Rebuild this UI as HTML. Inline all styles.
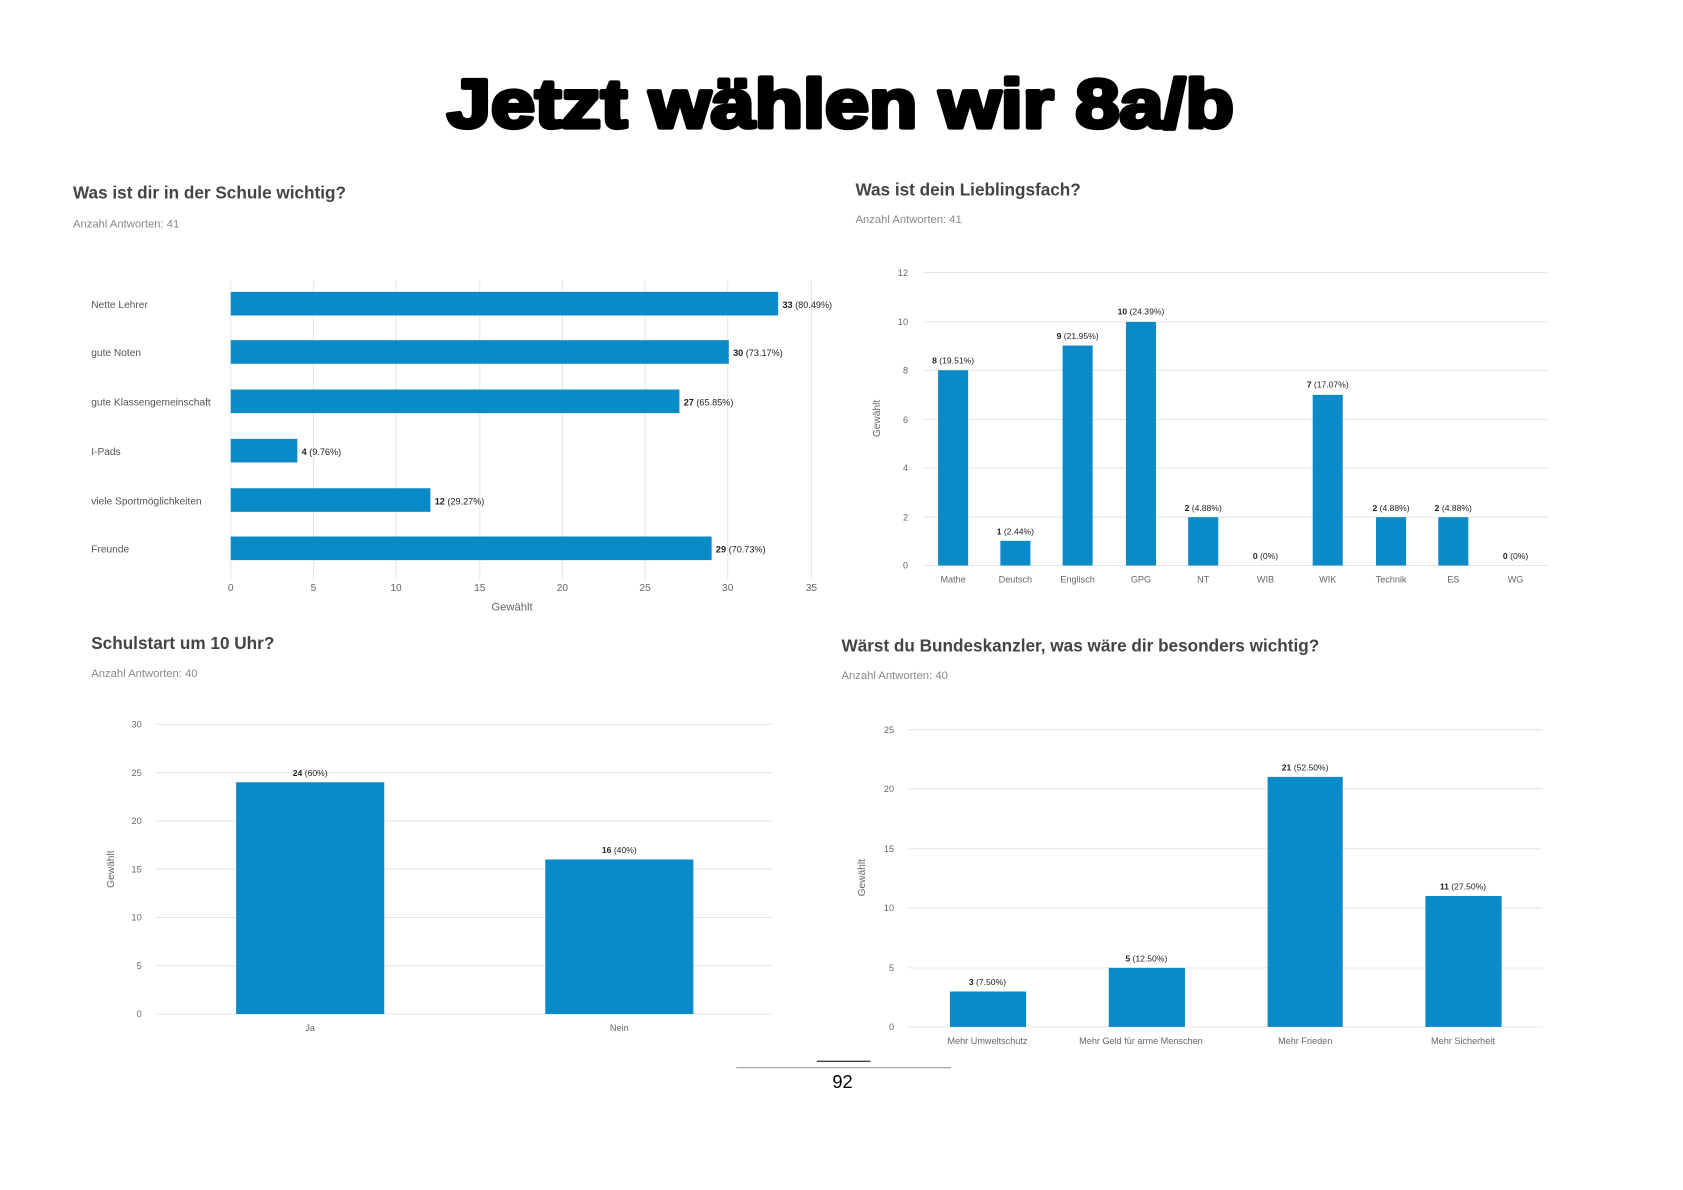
<!DOCTYPE html>
<html><head><meta charset="utf-8"><style>
html,body{margin:0;padding:0;background:#fff;}
svg{display:block;}
text{font-family:"Liberation Sans",sans-serif;}
</style></head><body>
<svg width="1683" height="1190" viewBox="0 0 1568 1109" preserveAspectRatio="none" xmlns="http://www.w3.org/2000/svg">
<rect width="1568" height="1109" fill="#fff"/>
<text x="783" y="119" text-anchor="middle" font-size="64" font-weight="bold" textLength="733" lengthAdjust="spacingAndGlyphs" fill="#000" stroke="#000" stroke-width="4" stroke-linejoin="round">Jetzt wählen wir 8a/b</text>

<!-- Chart 1 -->
<text x="68" y="185" font-size="16" font-weight="bold" fill="#444">Was ist dir in der Schule wichtig?</text>
<text x="68" y="212" font-size="10.5" fill="#888">Anzahl Antworten: 41</text>
<g stroke="#e6e6e6" stroke-width="1">
<line x1="215" y1="262" x2="215" y2="540"/><line x1="292" y1="262" x2="292" y2="540"/><line x1="369" y1="262" x2="369" y2="540"/><line x1="447" y1="262" x2="447" y2="540"/><line x1="524" y1="262" x2="524" y2="540"/><line x1="601" y1="262" x2="601" y2="540"/><line x1="678" y1="262" x2="678" y2="540"/><line x1="756" y1="262" x2="756" y2="540"/>
</g>
<g fill="#0a8ac6">
<rect x="215" y="272" width="510" height="22"/>
<rect x="215" y="317" width="464" height="22"/>
<rect x="215" y="363" width="418" height="22"/>
<rect x="215" y="409" width="62" height="22"/>
<rect x="215" y="455" width="186" height="22"/>
<rect x="215" y="500" width="448" height="22"/>
</g>
<g font-size="9.5" fill="#555">
<text x="85" y="287">Nette Lehrer</text><text x="85" y="332">gute Noten</text><text x="85" y="378">gute Klassengemeinschaft</text><text x="85" y="424">I-Pads</text><text x="85" y="470">viele Sportmöglichkeiten</text><text x="85" y="515">Freunde</text>
</g>
<g font-size="8.5" fill="#222">
<text x="729" y="287"><tspan font-weight="bold">33</tspan> (80.49%)</text>
<text x="683" y="332"><tspan font-weight="bold">30</tspan> (73.17%)</text>
<text x="637" y="378"><tspan font-weight="bold">27</tspan> (65.85%)</text>
<text x="281" y="424"><tspan font-weight="bold">4</tspan> (9.76%)</text>
<text x="405" y="470"><tspan font-weight="bold">12</tspan> (29.27%)</text>
<text x="667" y="515"><tspan font-weight="bold">29</tspan> (70.73%)</text>
</g>
<g font-size="9.5" fill="#666" text-anchor="middle">
<text x="215" y="551">0</text><text x="292" y="551">5</text><text x="369" y="551">10</text><text x="447" y="551">15</text><text x="524" y="551">20</text><text x="601" y="551">25</text><text x="678" y="551">30</text><text x="756" y="551">35</text>
<text x="477" y="569" font-size="10.5">Gewählt</text>
</g>

<!-- Chart 2 -->
<text x="797" y="182" font-size="16" font-weight="bold" fill="#444">Was ist dein Lieblingsfach?</text>
<text x="797" y="208" font-size="10.5" fill="#888">Anzahl Antworten: 41</text>
<g stroke="#e6e6e6">
<line x1="860" y1="254" x2="1442" y2="254"/><line x1="860" y1="300" x2="1442" y2="300"/><line x1="860" y1="345" x2="1442" y2="345"/><line x1="860" y1="391" x2="1442" y2="391"/><line x1="860" y1="436" x2="1442" y2="436"/><line x1="860" y1="482" x2="1442" y2="482"/><line x1="860" y1="527" x2="1442" y2="527"/>
</g>
<g font-size="8.5" fill="#666" text-anchor="end">
<text x="846" y="257">12</text><text x="846" y="303">10</text><text x="846" y="348">8</text><text x="846" y="394">6</text><text x="846" y="439">4</text><text x="846" y="485">2</text><text x="846" y="530">0</text>
</g>
<text transform="translate(820,390) rotate(-90)" font-size="9.5" fill="#666" text-anchor="middle">Gewählt</text>
<g fill="#0a8ac6">
<rect x="874" y="345" width="28" height="182"/>
<rect x="932" y="504" width="28" height="23"/>
<rect x="990" y="322" width="28" height="205"/>
<rect x="1049" y="300" width="28" height="227"/>
<rect x="1107" y="482" width="28" height="45"/>
<rect x="1223" y="368" width="28" height="159"/>
<rect x="1282" y="482" width="28" height="45"/>
<rect x="1340" y="482" width="28" height="45"/>
</g>
<g font-size="8" fill="#222" text-anchor="middle">
<text x="888" y="339"><tspan font-weight="bold">8</tspan> (19.51%)</text>
<text x="946" y="498"><tspan font-weight="bold">1</tspan> (2.44%)</text>
<text x="1004" y="316"><tspan font-weight="bold">9</tspan> (21.95%)</text>
<text x="1063" y="293"><tspan font-weight="bold">10</tspan> (24.39%)</text>
<text x="1121" y="476"><tspan font-weight="bold">2</tspan> (4.88%)</text>
<text x="1179" y="521"><tspan font-weight="bold">0</tspan> (0%)</text>
<text x="1237" y="361"><tspan font-weight="bold">7</tspan> (17.07%)</text>
<text x="1296" y="476"><tspan font-weight="bold">2</tspan> (4.88%)</text>
<text x="1354" y="476"><tspan font-weight="bold">2</tspan> (4.88%)</text>
<text x="1412" y="521"><tspan font-weight="bold">0</tspan> (0%)</text>
</g>
<g font-size="8.5" fill="#666" text-anchor="middle">
<text x="888" y="543">Mathe</text><text x="946" y="543">Deutsch</text><text x="1004" y="543">Englisch</text><text x="1063" y="543">GPG</text><text x="1121" y="543">NT</text><text x="1179" y="543">WIB</text><text x="1237" y="543">WIK</text><text x="1296" y="543">Technik</text><text x="1354" y="543">ES</text><text x="1412" y="543">WG</text>
</g>

<!-- Chart 3 -->
<text x="85" y="605" font-size="16" font-weight="bold" fill="#444">Schulstart um 10 Uhr?</text>
<text x="85" y="631" font-size="10.5" fill="#888">Anzahl Antworten: 40</text>
<g stroke="#e6e6e6">
<line x1="145" y1="675" x2="720" y2="675"/><line x1="145" y1="720" x2="720" y2="720"/><line x1="145" y1="765" x2="720" y2="765"/><line x1="145" y1="810" x2="720" y2="810"/><line x1="145" y1="855" x2="720" y2="855"/><line x1="145" y1="900" x2="720" y2="900"/><line x1="145" y1="945" x2="720" y2="945"/>
</g>
<g font-size="8.5" fill="#666" text-anchor="end">
<text x="132" y="678">30</text><text x="132" y="723">25</text><text x="132" y="768">20</text><text x="132" y="813">15</text><text x="132" y="858">10</text><text x="132" y="903">5</text><text x="132" y="948">0</text>
</g>
<text transform="translate(106,810) rotate(-90)" font-size="9.5" fill="#666" text-anchor="middle">Gewählt</text>
<g fill="#0a8ac6">
<rect x="220" y="729" width="138" height="216"/>
<rect x="508" y="801" width="138" height="144"/>
</g>
<g font-size="8" fill="#222" text-anchor="middle">
<text x="289" y="723"><tspan font-weight="bold">24</tspan> (60%)</text>
<text x="577" y="795"><tspan font-weight="bold">16</tspan> (40%)</text>
</g>
<g font-size="8.5" fill="#666" text-anchor="middle">
<text x="289" y="961">Ja</text><text x="577" y="961">Nein</text>
</g>

<!-- Chart 4 -->
<text x="784" y="607" font-size="16" font-weight="bold" fill="#444">Wärst du Bundeskanzler, was wäre dir besonders wichtig?</text>
<text x="784" y="633" font-size="10.5" fill="#888">Anzahl Antworten: 40</text>
<g stroke="#e6e6e6">
<line x1="846" y1="680" x2="1437" y2="680"/><line x1="846" y1="735" x2="1437" y2="735"/><line x1="846" y1="791" x2="1437" y2="791"/><line x1="846" y1="846" x2="1437" y2="846"/><line x1="846" y1="902" x2="1437" y2="902"/><line x1="846" y1="957" x2="1437" y2="957"/>
</g>
<g font-size="8.5" fill="#666" text-anchor="end">
<text x="833" y="683">25</text><text x="833" y="738">20</text><text x="833" y="794">15</text><text x="833" y="849">10</text><text x="833" y="905">5</text><text x="833" y="960">0</text>
</g>
<text transform="translate(806,818) rotate(-90)" font-size="9.5" fill="#666" text-anchor="middle">Gewählt</text>
<g fill="#0a8ac6">
<rect x="885" y="924" width="71" height="33"/>
<rect x="1033" y="902" width="71" height="55"/>
<rect x="1181" y="724" width="70" height="233"/>
<rect x="1328" y="835" width="71" height="122"/>
</g>
<g font-size="8" fill="#222" text-anchor="middle">
<text x="920" y="918"><tspan font-weight="bold">3</tspan> (7.50%)</text>
<text x="1068" y="896"><tspan font-weight="bold">5</tspan> (12.50%)</text>
<text x="1216" y="718"><tspan font-weight="bold">21</tspan> (52.50%)</text>
<text x="1363" y="829"><tspan font-weight="bold">11</tspan> (27.50%)</text>
</g>
<g font-size="8.5" fill="#666" text-anchor="middle">
<text x="920" y="973">Mehr Umweltschutz</text><text x="1063" y="973">Mehr Geld für arme Menschen</text><text x="1216" y="973">Mehr Frieden</text><text x="1363" y="973">Mehr Sicherheit</text>
</g>

<!-- footer -->
<line x1="761" y1="989" x2="811" y2="989" stroke="#000" stroke-width="1"/>
<line x1="686" y1="995" x2="886" y2="995" stroke="#999" stroke-width="1"/>
<text x="785" y="1014" font-size="17" text-anchor="middle" fill="#000">92</text>
</svg>
</body></html>
